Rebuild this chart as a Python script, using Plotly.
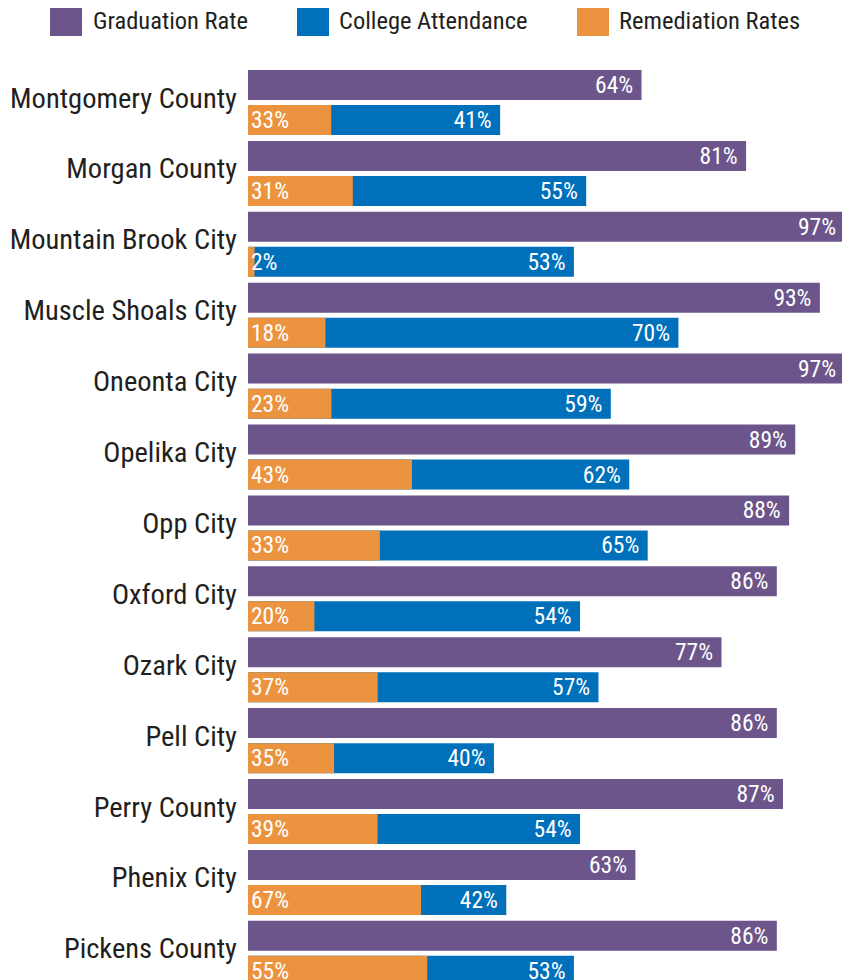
import plotly.graph_objects as go

# ---- data ----
districts = ["Montgomery County", "Morgan County", "Mountain Brook City", "Muscle Shoals City",
             "Oneonta City", "Opelika City", "Opp City", "Oxford City", "Ozark City",
             "Pell City", "Perry County", "Phenix City", "Pickens County"]
graduation = [64, 81, 97, 93, 97, 89, 88, 86, 77, 86, 87, 63, 86]
attendance = [41, 55, 53, 70, 59, 62, 65, 54, 57, 40, 54, 42, 53]
remediation = [33, 31, 2, 18, 23, 43, 33, 20, 37, 35, 39, 67, 55]
series_names = ["Graduation Rate", "College Attendance", "Remediation Rates"]

# ---- style ----
PURPLE = "#6B558B"
BLUE = "#0070BB"
ORANGE = "#EC9340"
TEXT = "#231F20"
FONT = "Roboto Condensed, Noto Sans Condensed, DejaVu Sans Condensed, Liberation Sans Narrow, Roboto, sans-serif"
BODY = 8                      # default page margin of the html body
W, H = 850 - BODY, 980 - BODY
ML, MR, MT, MB = 248 - BODY, 0, 50 - BODY, 0

rows = list(range(len(districts)))
off = 0.247
bw = 0.423
y_grad = [r - off for r in rows]
y_att = [r + off for r in rows]
# remediation shown as share of the attending students
rem_len = [r * a / 100 for r, a in zip(remediation, attendance)]

NB = "\u00a0"
LBL = dict(family=FONT, size=23.5, color="white")

fig = go.Figure()
fig.add_trace(go.Bar(
    y=y_grad, x=graduation, orientation="h", width=bw, marker_color=PURPLE,
    text=[f"{v}%{NB}" for v in graduation], textposition="inside", insidetextanchor="end",
    textangle=0, constraintext="none", name=series_names[0],
    insidetextfont=LBL, hoverinfo="skip"))
fig.add_trace(go.Bar(
    y=y_att, x=attendance, orientation="h", width=bw, marker_color=BLUE,
    text=[f"{v}%{NB}" for v in attendance], textposition="inside", insidetextanchor="end",
    textangle=0, constraintext="none", name=series_names[1],
    insidetextfont=LBL, hoverinfo="skip"))
fig.add_trace(go.Bar(
    y=y_att, x=rem_len, orientation="h", width=bw, marker_color=ORANGE,
    text=[f"{v}%" for v in remediation], textposition="inside", insidetextanchor="start",
    textangle=0, constraintext="none", name=series_names[2],
    insidetextfont=LBL, hoverinfo="skip"))

for tr in fig.data:
    tr.marker.line.width = 0

# custom legend (large square swatches), positions given in page pixels
pw = W - ML - MR
ph = H - MT - MB
def px_x(p):
    return (p - BODY - ML) / pw
def px_y(p):
    return (H - MB - (p - BODY)) / ph

shapes = []
annotations = []
for name, col, sx, tx in zip(series_names, [PURPLE, BLUE, ORANGE], [50, 297, 577], [91, 337, 617]):
    shapes.append(dict(type="rect", xref="paper", yref="paper",
                       x0=px_x(sx), x1=px_x(sx + 32), y0=px_y(36), y1=px_y(4),
                       fillcolor=col, line=dict(width=0)))
    annotations.append(dict(xref="paper", yref="paper", x=px_x(tx), y=px_y(21),
                            xanchor="left", yanchor="middle", text=name, showarrow=False,
                            font=dict(family=FONT, size=24.5, color=TEXT)))

fig.update_layout(
    width=W, height=H,
    margin=dict(l=ML, r=MR, t=MT, b=MB, pad=0, autoexpand=False),
    barmode="overlay",
    plot_bgcolor="white", paper_bgcolor="white",
    showlegend=False,
    shapes=shapes, annotations=annotations,
    xaxis=dict(range=[0, 97.9], visible=False, showgrid=False, zeroline=False, fixedrange=True,
               automargin=False),
    yaxis=dict(range=[12.376, -0.7405], tickvals=[r - 0.07 for r in rows], ticktext=districts,
               showgrid=False, zeroline=False, showline=False, ticks="",
               ticklabelstandoff=10, automargin=False,
               tickfont=dict(family=FONT, size=28.5, color=TEXT), fixedrange=True),
)

fig.write_html("out.html")
